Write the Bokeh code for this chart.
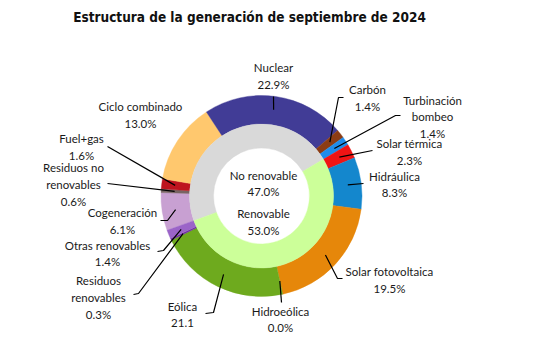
import numpy as np
from bokeh.plotting import figure
from bokeh.models import Range1d, ColumnDataSource
from bokeh.core.properties import value
from bokeh.embed import file_html
from bokeh.resources import INLINE

# ---------------- data ----------------
title_text = "Estructura de la generación de septiembre de 2024"
sources = ["Cogeneración", "Residuos no renovables", "Fuel+gas", "Ciclo combinado",
           "Nuclear", "Carbón", "Turbinación bombeo", "Solar térmica", "Hidráulica",
           "Solar fotovoltaica", "Hidroeólica", "Eólica", "Residuos renovables",
           "Otras renovables"]
shares = [6.1, 0.6, 1.6, 13.0, 22.9, 1.4, 1.4, 2.3, 8.3, 19.5, 0.0, 21.1, 0.3, 1.4]
groups = ["No renovable", "Renovable"]
group_shares = [47.0, 53.0]

# ---------------- styles / layout ----------------
label_names = ["Cogeneración", "Residuos no\nrenovables", "Fuel+gas", "Ciclo combinado",
               "Nuclear", "Carbón", "Turbinación\nbombeo", "Solar térmica", "Hidráulica",
               "Solar fotovoltaica", "Hidroeólica", "Eólica", "Residuos\nrenovables",
               "Otras renovables"]
pct_suffix = ["%"] * 14
pct_suffix[11] = ""
colors = ["#C8A0D2", "#786464", "#BE141E", "#FFC86E", "#413C96", "#8C3C14", "#1E8CEB",
          "#F01414", "#1487CD", "#E6870A", "#7FBF3F", "#6EAA1E", "#7030A0", "#9B64C8"]
group_colors = ["#D9D9D9", "#CCFF99"]

W, H = 523, 343
def Y(y_img):
    return 359 - y_img

CX, CY = 261, Y(195.5)
R_OUT, R_MID, R_IN = 100.5, 72, 48
THETA0 = 250.0  # first slice angle, clockwise from 12 o'clock

# label block centres (image px)
label_pos = [(122, 220.5), (73, 184), (81, 146.5), (140, 114.5), (273, 75.5), (367, 97.5),
             (432, 116.5), (409, 151.5), (394, 184), (389, 279.5), (280, 319), (182, 314),
             (98, 297), (107, 253)]
# leader line waypoints after the slice anchor (image px); None = no leader
leader_pts = [[(167, 220), (160, 220)], [(107, 183)], [(107, 146)], None,
              [(273, 96)], [(338, 97), (343, 97)], [(395, 115), (400, 115)],
              [(372, 150)], [(363, 183)], [(337, 278), (342, 278)], [(281, 302)],
              [(213, 312), (205, 313)], [(138, 293), (133, 294)],
              [(163, 250), (157, 251)]]

p = figure(width=W, height=H, output_backend="svg", toolbar_location=None,
           x_range=Range1d(0, W), y_range=Range1d(Y(H), Y(0)),
           x_axis_location=None, y_axis_location=None, min_border=0,
           outline_line_color=None, background_fill_color="white",
           border_fill_color="white")
p.grid.visible = False

# ---------------- outer ring ----------------
vals = np.array(shares, dtype=float)
total = vals.sum()
cum = np.concatenate([[0], np.cumsum(vals)[:-1]])
th_s = THETA0 + cum / total * 360.0
th_e = th_s + vals / total * 360.0
th_m = (th_s + th_e) / 2
mask = vals > 0
src = ColumnDataSource(dict(
    x=[CX] * mask.sum(), y=[CY] * mask.sum(),
    start=np.radians(90 - th_e[mask]), end=np.radians(90 - th_s[mask]),
    color=[c for c, m in zip(colors, mask) if m]))
p.annular_wedge(x="x", y="y", inner_radius=R_MID, outer_radius=R_OUT,
                start_angle="start", end_angle="end", direction="anticlock",
                fill_color="color", line_color="color", line_width=0.4, source=src)

# ---------------- inner ring ----------------
gv = np.array(group_shares)
gcum = np.concatenate([[0], np.cumsum(gv)[:-1]])
g_s = THETA0 + gcum / gv.sum() * 360.0
g_e = g_s + gv / gv.sum() * 360.0
gsrc = ColumnDataSource(dict(x=[CX] * 2, y=[CY] * 2,
                             start=np.radians(90 - g_e), end=np.radians(90 - g_s),
                             color=group_colors))
p.annular_wedge(x="x", y="y", inner_radius=R_IN, outer_radius=R_MID,
                start_angle="start", end_angle="end", direction="anticlock",
                fill_color="color", line_color="color", line_width=0.4, source=gsrc)

# ---------------- leaders ----------------
xs, ys = [], []
r_anchor = 87
for i, pts in enumerate(leader_pts):
    if pts is None:
        continue
    ang = np.radians(th_m[i])
    ax = CX + r_anchor * np.sin(ang)
    ay = CY + r_anchor * np.cos(ang)
    xs.append([ax] + [q[0] for q in pts])
    ys.append([ay] + [Y(q[1]) for q in pts])
p.multi_line(xs=xs, ys=ys, line_color="black", line_width=1.2)

# ---------------- labels ----------------
texts = [f"{n}\n{v:.1f}{s}" for n, v, s in zip(label_names, shares, pct_suffix)]
lsrc = ColumnDataSource(dict(x=[q[0] for q in label_pos], y=[Y(q[1]) for q in label_pos],
                             text=texts))
p.text(x="x", y="y", text="text", source=lsrc, text_font=value("Lato"),
       text_font_size="11.5px", text_align="center", text_baseline="middle",
       text_line_height=1.3, text_color="#1a1a1a")

gtexts = [f"{g}\n{v:.1f}%" for g, v in zip(groups, group_shares)]
p.text(x=[263, 263], y=[Y(183), Y(221.5)], text=gtexts, text_font=value("Lato"),
       text_font_size="11.5px", text_align="center", text_baseline="middle",
       text_line_height=1.3, text_color="#1a1a1a")

# ---------------- title ----------------
p.text(x=[249], y=[Y(16)], text=[title_text],
       text_font=value("'DejaVu Sans Condensed', 'Roboto'"),
       text_font_size="13.5px", text_font_style="bold", text_align="center",
       text_baseline="middle", text_color="#111111")

open("out.html", "w").write(file_html(p, INLINE, title="chart"))
